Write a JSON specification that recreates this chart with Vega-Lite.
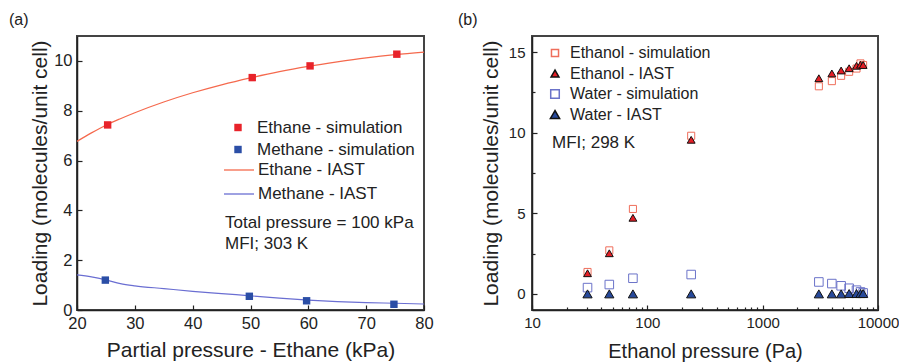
{
  "$schema": "https://vega.github.io/schema/vega-lite/v6.json",
  "padding": {"left": 8, "top": 11, "right": 0, "bottom": 0},
  "spacing": 22,
  "resolve": {
    "scale": {"color": "independent", "fill": "independent", "stroke": "independent", "shape": "independent", "size": "independent"},
    "legend": {"color": "independent", "fill": "independent", "stroke": "independent", "shape": "independent", "size": "independent"}
  },
  "config": {
    "font": "Liberation Sans",
    "view": {"stroke": "#444", "strokeWidth": 2},
    "axis": {"grid": false, "domainColor": "#222", "domainWidth": 1.5, "tickColor": "#222", "tickWidth": 1.2, "labelColor": "#222", "titleColor": "#222", "titleFontWeight": "normal", "labelFlush": false, "labelOverlap": false},
    "title": {"fontSize": 16, "fontWeight": "normal", "color": "#222", "anchor": "start", "frame": "group", "offset": 8}
  },
  "datasets": {
    "leftSim": [
      {"p": 25.3, "loading": 7.43, "series": "Ethane - simulation"},
      {"p": 50.3, "loading": 9.33, "series": "Ethane - simulation"},
      {"p": 60.3, "loading": 9.80, "series": "Ethane - simulation"},
      {"p": 75.3, "loading": 10.27, "series": "Ethane - simulation"},
      {"p": 24.9, "loading": 1.20, "series": "Methane - simulation"},
      {"p": 49.8, "loading": 0.55, "series": "Methane - simulation"},
      {"p": 59.7, "loading": 0.37, "series": "Methane - simulation"},
      {"p": 74.8, "loading": 0.23, "series": "Methane - simulation"}
    ],
    "leftIast": [
      {"p": 20, "loading": 6.77, "series": "Ethane - IAST"},
      {"p": 22.5, "loading": 7.11, "series": "Ethane - IAST"},
      {"p": 25, "loading": 7.42, "series": "Ethane - IAST"},
      {"p": 27.5, "loading": 7.68, "series": "Ethane - IAST"},
      {"p": 30, "loading": 7.92, "series": "Ethane - IAST"},
      {"p": 35, "loading": 8.35, "series": "Ethane - IAST"},
      {"p": 40, "loading": 8.72, "series": "Ethane - IAST"},
      {"p": 45, "loading": 9.04, "series": "Ethane - IAST"},
      {"p": 50, "loading": 9.32, "series": "Ethane - IAST"},
      {"p": 55, "loading": 9.57, "series": "Ethane - IAST"},
      {"p": 60, "loading": 9.78, "series": "Ethane - IAST"},
      {"p": 65, "loading": 9.96, "series": "Ethane - IAST"},
      {"p": 70, "loading": 10.12, "series": "Ethane - IAST"},
      {"p": 75, "loading": 10.25, "series": "Ethane - IAST"},
      {"p": 80, "loading": 10.35, "series": "Ethane - IAST"},
      {"p": 20, "loading": 1.41, "series": "Methane - IAST"},
      {"p": 22.5, "loading": 1.33, "series": "Methane - IAST"},
      {"p": 25, "loading": 1.21, "series": "Methane - IAST"},
      {"p": 27.5, "loading": 1.06, "series": "Methane - IAST"},
      {"p": 30, "loading": 0.97, "series": "Methane - IAST"},
      {"p": 35, "loading": 0.86, "series": "Methane - IAST"},
      {"p": 40, "loading": 0.75, "series": "Methane - IAST"},
      {"p": 45, "loading": 0.66, "series": "Methane - IAST"},
      {"p": 50, "loading": 0.57, "series": "Methane - IAST"},
      {"p": 55, "loading": 0.48, "series": "Methane - IAST"},
      {"p": 60, "loading": 0.40, "series": "Methane - IAST"},
      {"p": 65, "loading": 0.34, "series": "Methane - IAST"},
      {"p": 70, "loading": 0.30, "series": "Methane - IAST"},
      {"p": 75, "loading": 0.27, "series": "Methane - IAST"},
      {"p": 80, "loading": 0.24, "series": "Methane - IAST"}
    ],
    "right": [
      {"pa": 30.3, "loading": 1.36, "series": "Ethanol - simulation"},
      {"pa": 46.8, "loading": 2.70, "series": "Ethanol - simulation"},
      {"pa": 75, "loading": 5.27, "series": "Ethanol - simulation"},
      {"pa": 240, "loading": 9.81, "series": "Ethanol - simulation"},
      {"pa": 3070, "loading": 12.88, "series": "Ethanol - simulation"},
      {"pa": 3980, "loading": 13.20, "series": "Ethanol - simulation"},
      {"pa": 4790, "loading": 13.53, "series": "Ethanol - simulation"},
      {"pa": 5620, "loading": 13.78, "series": "Ethanol - simulation"},
      {"pa": 6510, "loading": 13.98, "series": "Ethanol - simulation"},
      {"pa": 7050, "loading": 14.30, "series": "Ethanol - simulation"},
      {"pa": 7430, "loading": 14.20, "series": "Ethanol - simulation"},
      {"pa": 30.3, "loading": 0.39, "series": "Water - simulation"},
      {"pa": 46.8, "loading": 0.58, "series": "Water - simulation"},
      {"pa": 75, "loading": 0.97, "series": "Water - simulation"},
      {"pa": 240, "loading": 1.20, "series": "Water - simulation"},
      {"pa": 3070, "loading": 0.74, "series": "Water - simulation"},
      {"pa": 3980, "loading": 0.64, "series": "Water - simulation"},
      {"pa": 4790, "loading": 0.50, "series": "Water - simulation"},
      {"pa": 5620, "loading": 0.35, "series": "Water - simulation"},
      {"pa": 6510, "loading": 0.23, "series": "Water - simulation"},
      {"pa": 7050, "loading": 0.12, "series": "Water - simulation"},
      {"pa": 7430, "loading": 0.06, "series": "Water - simulation"},
      {"pa": 30.3, "loading": 1.28, "series": "Ethanol - IAST"},
      {"pa": 46.8, "loading": 2.52, "series": "Ethanol - IAST"},
      {"pa": 75, "loading": 4.72, "series": "Ethanol - IAST"},
      {"pa": 240, "loading": 9.56, "series": "Ethanol - IAST"},
      {"pa": 3070, "loading": 13.38, "series": "Ethanol - IAST"},
      {"pa": 3980, "loading": 13.68, "series": "Ethanol - IAST"},
      {"pa": 4790, "loading": 13.86, "series": "Ethanol - IAST"},
      {"pa": 5620, "loading": 14.00, "series": "Ethanol - IAST"},
      {"pa": 6510, "loading": 14.15, "series": "Ethanol - IAST"},
      {"pa": 7050, "loading": 14.22, "series": "Ethanol - IAST"},
      {"pa": 7430, "loading": 14.20, "series": "Ethanol - IAST"},
      {"pa": 30.3, "loading": 0.0, "series": "Water - IAST"},
      {"pa": 46.8, "loading": 0.0, "series": "Water - IAST"},
      {"pa": 75, "loading": 0.0, "series": "Water - IAST"},
      {"pa": 240, "loading": 0.0, "series": "Water - IAST"},
      {"pa": 3070, "loading": 0.0, "series": "Water - IAST"},
      {"pa": 3980, "loading": 0.0, "series": "Water - IAST"},
      {"pa": 4790, "loading": 0.0, "series": "Water - IAST"},
      {"pa": 5620, "loading": 0.02, "series": "Water - IAST"},
      {"pa": 6510, "loading": 0.02, "series": "Water - IAST"},
      {"pa": 7050, "loading": 0.02, "series": "Water - IAST"},
      {"pa": 7430, "loading": 0.02, "series": "Water - IAST"}
    ]
  },
  "hconcat": [
    {
      "width": 347,
      "height": 274,
      "title": {"text": "(a)", "dx": -68},
      "layer": [
        {
          "data": {"name": "leftIast"},
          "mark": {"type": "line", "strokeWidth": 1.2, "interpolate": "monotone"},
          "encoding": {
            "x": {"field": "p", "type": "quantitative"},
            "y": {"field": "loading", "type": "quantitative"},
            "stroke": {
              "field": "series", "type": "nominal",
              "scale": {"domain": ["Ethane - IAST", "Methane - IAST"], "range": ["#f5694d", "#6a6ed2"]},
              "legend": {
                "title": null, "orient": "none", "legendX": 146, "legendY": 118, "padding": 0,
                "labelFontSize": 17, "labelColor": "#222", "labelOffset": 3, "rowPadding": -10,
                "symbolType": "stroke", "symbolSize": 900, "symbolStrokeWidth": 1.3
              }
            }
          }
        },
        {
          "data": {"name": "leftSim"},
          "mark": {"type": "point", "shape": "square", "filled": true, "size": 55, "opacity": 1},
          "encoding": {
            "x": {
              "field": "p", "type": "quantitative",
              "scale": {"domain": [20, 80], "nice": false, "zero": false},
              "axis": {
                "title": "Partial pressure - Ethane (kPa)",
                "values": [20, 25, 30, 35, 40, 45, 50, 55, 60, 65, 70, 75, 80],
                "labelExpr": "datum.value % 10 === 0 ? datum.label : ''",
                "tickSize": {"condition": {"test": "datum.value % 10 !== 0", "value": -3}, "value": -5},
                "labelPadding": 10,
                "labelFontSize": 16.5,
                "titleFontSize": 21,
                "titlePadding": 8
              }
            },
            "y": {
              "field": "loading", "type": "quantitative",
              "scale": {"domain": [0, 11], "nice": false, "zero": false},
              "axis": {
                "title": "Loading (molecules/unit cell)",
                "values": [0, 1, 2, 3, 4, 5, 6, 7, 8, 9, 10],
                "labelExpr": "datum.value % 2 === 0 ? datum.label : ''",
                "tickSize": {"condition": {"test": "datum.value % 2 !== 0", "value": -3}, "value": -5},
                "labelPadding": 10,
                "labelFontSize": 16.5,
                "titleFontSize": 21,
                "titlePadding": 3
              }
            },
            "color": {
              "field": "series", "type": "nominal",
              "scale": {"domain": ["Ethane - simulation", "Methane - simulation"], "range": ["#e8232a", "#2b4ea6"]},
              "legend": {
                "title": null, "orient": "none", "legendX": 152.5, "legendY": 83, "padding": 0,
                "labelFontSize": 17, "labelColor": "#222", "labelOffset": 10.5, "rowPadding": 4,
                "symbolType": "square", "symbolSize": 55
              }
            }
          }
        },
        {
          "data": {"values": [{}]},
          "mark": {"type": "text", "align": "left", "baseline": "alphabetic", "fontSize": 17, "lineHeight": 21.5, "color": "#222"},
          "encoding": {
            "x": {"datum": 45.6, "type": "quantitative"},
            "y": {"datum": 3.3, "type": "quantitative"},
            "text": {"value": ["Total pressure = 100 kPa", "MFI; 303 K"]}
          }
        }
      ]
    },
    {
      "width": 346,
      "height": 274,
      "title": {"text": "(b)", "dx": -74},
      "layer": [
        {
          "data": {"name": "right"},
          "mark": {"type": "point", "filled": true, "strokeWidth": 1, "opacity": 1},
          "encoding": {
            "x": {
              "field": "pa", "type": "quantitative",
              "scale": {"type": "log", "domain": [10, 10000], "nice": false},
              "axis": {
                "title": "Ethanol pressure (Pa)",
                "values": [10, 20, 30, 40, 50, 60, 70, 80, 90, 100, 200, 300, 400, 500, 600, 700, 800, 900, 1000, 2000, 3000, 4000, 5000, 6000, 7000, 8000, 9000, 10000],
                "labelExpr": "indexof([10, 100, 1000, 10000], datum.value) >= 0 ? format(datum.value, 'd') : ''",
                "tickSize": {"condition": {"test": "indexof([10, 100, 1000, 10000], datum.value) < 0", "value": -3}, "value": -5},
                "labelPadding": 10,
                "labelFontSize": 15,
                "titleFontSize": 20,
                "titlePadding": 9
              }
            },
            "y": {
              "field": "loading", "type": "quantitative",
              "scale": {"domain": [-1, 16], "nice": false, "zero": false},
              "axis": {
                "title": "Loading (molecules/unit cell)",
                "values": [0, 2.5, 5, 7.5, 10, 12.5, 15],
                "labelExpr": "datum.value % 5 === 0 ? datum.label : ''",
                "tickSize": {"condition": {"test": "datum.value % 5 !== 0", "value": -3}, "value": -5},
                "labelPadding": 12,
                "labelFontSize": 15,
                "titleFontSize": 21,
                "titlePadding": 7
              }
            },
            "fill": {
              "field": "series", "type": "nominal",
              "scale": {
                "domain": ["Ethanol - simulation", "Ethanol - IAST", "Water - simulation", "Water - IAST"],
                "range": ["transparent", "#e41e26", "transparent", "#27499a"]
              },
              "legend": {"title": null, "orient": "none", "legendX": 15, "legendY": 9, "padding": 0, "labelFontSize": 16, "labelColor": "#222", "labelOffset": 7, "rowPadding": 4.5}
            },
            "stroke": {
              "field": "series", "type": "nominal",
              "scale": {
                "domain": ["Ethanol - simulation", "Ethanol - IAST", "Water - simulation", "Water - IAST"],
                "range": ["#ef6e5b", "#111111", "#6b73c9", "#111111"]
              },
              "legend": {"title": null, "orient": "none", "legendX": 15, "legendY": 9, "padding": 0, "labelFontSize": 16, "labelColor": "#222", "labelOffset": 7, "rowPadding": 4.5}
            },
            "shape": {
              "field": "series", "type": "nominal",
              "scale": {
                "domain": ["Ethanol - simulation", "Ethanol - IAST", "Water - simulation", "Water - IAST"],
                "range": ["square", "triangle-up", "square", "triangle-up"]
              },
              "legend": {"title": null, "orient": "none", "legendX": 15, "legendY": 9, "padding": 0, "labelFontSize": 16, "labelColor": "#222", "labelOffset": 7, "rowPadding": 4.5}
            },
            "size": {
              "field": "series", "type": "nominal",
              "scale": {
                "domain": ["Ethanol - simulation", "Ethanol - IAST", "Water - simulation", "Water - IAST"],
                "range": [50, 85, 50, 85]
              },
              "legend": {"title": null, "orient": "none", "legendX": 15, "legendY": 9, "padding": 0, "labelFontSize": 16, "labelColor": "#222", "labelOffset": 7, "rowPadding": 4.5}
            }
          }
        },
        {
          "data": {"values": [{}]},
          "mark": {"type": "text", "align": "left", "baseline": "alphabetic", "fontSize": 17, "color": "#222"},
          "encoding": {
            "x": {"datum": 14.9, "type": "quantitative"},
            "y": {"datum": 9.03, "type": "quantitative"},
            "text": {"value": "MFI; 298 K"}
          }
        }
      ]
    }
  ]
}
